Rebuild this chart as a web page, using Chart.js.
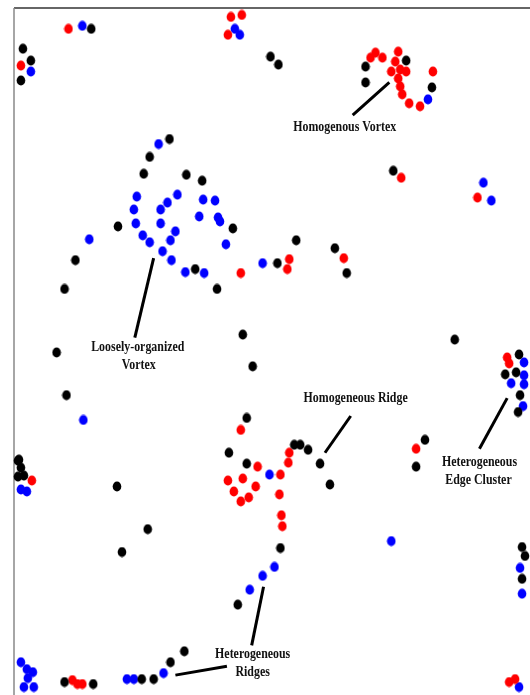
<!DOCTYPE html>
<html>
<head>
<meta charset="utf-8">
<script src="https://cdn.jsdelivr.net/npm/chart.js@4.4.0/dist/chart.umd.min.js"></script>
<style>
  html, body { margin: 0; padding: 0; background: #fff; overflow: hidden; }
  #wrap { width: 100vw; height: 100vh; position: relative; }
</style>
</head>
<body>
<div id="wrap"><canvas id="myChart"></canvas></div>
<script>
// point positions (x to the right, y downwards)
var blackPoints = [
  [92, 29], [23, 49], [31, 61], [21, 81], [273, 57], [281, 65],
  [369, 67], [369, 83], [410, 61], [436, 88], [397, 172],
  [171, 140], [151, 158], [145, 175], [188, 176], [204, 182], [119, 228], [235, 230], [197, 271],
  [76, 262], [65, 291], [57, 355], [67, 398], [19, 463],
  [299, 242], [338, 250], [350, 275], [219, 291], [280, 265], [245, 337], [255, 369],
  [459, 342], [524, 357], [510, 377], [521, 375], [525, 398], [523, 415],
  [249, 421], [231, 456], [297, 448], [303, 448], [311, 453], [249, 467], [323, 467], [333, 488],
  [429, 443], [420, 470], [18, 464], [21, 471], [18, 480], [24, 479],
  [118, 490], [149, 533], [123, 556], [283, 552], [240, 609], [186, 656], [172, 667],
  [65, 687], [94, 689], [143, 684], [155, 684], [527, 551], [530, 560], [527, 583]
];

var redPoints = [
  [69, 29], [21, 66], [233, 17], [244, 15], [230, 35],
  [374, 58], [379, 53], [386, 58], [402, 52], [399, 62], [395, 72], [404, 70], [410, 72],
  [402, 79], [437, 72], [404, 87], [406, 95], [413, 104], [424, 107],
  [405, 179], [482, 199], [243, 275], [347, 260], [292, 261], [290, 271],
  [512, 360], [514, 366], [243, 433], [292, 456], [291, 466], [260, 470], [283, 478],
  [230, 484], [245, 482], [236, 495], [258, 490], [243, 505], [251, 501], [282, 498],
  [284, 519], [285, 530], [420, 452], [32, 484],
  [73, 685], [78, 689], [83, 689], [514, 687], [520, 684]
];

var bluePoints = [
  [83, 26], [31, 72], [237, 29], [242, 35], [432, 100], [488, 184], [496, 202],
  [160, 145], [138, 198], [135, 211], [137, 225], [144, 237], [151, 244], [162, 211], [169, 204],
  [179, 196], [162, 225], [177, 233], [172, 242], [164, 253], [173, 262], [205, 201], [217, 202],
  [201, 218], [220, 219], [222, 223], [228, 246], [187, 274], [206, 275],
  [90, 241], [84, 423], [265, 265],
  [529, 365], [529, 378], [516, 386], [529, 387], [528, 409],
  [272, 478], [277, 571], [265, 580], [252, 594], [21, 493], [27, 495],
  [395, 545], [525, 572], [527, 598],
  [21, 667], [27, 674], [33, 677], [28, 683], [24, 692], [34, 692],
  [128, 684], [135, 684], [165, 678], [524, 692]
];

// annotation text: [text, x, y]
var labelTexts = [
  ['Homogenous Vortex', 348, 128],
  ['Loosely-organized', 139, 350],
  ['Vortex', 140, 368],
  ['Homogeneous Ridge', 359, 401],
  ['Heterogeneous', 484, 466],
  ['Edge Cluster', 483, 484],
  ['Heterogeneous', 255, 659],
  ['Ridges', 255, 677]
];

// leader lines: [x1, y1, x2, y2]
var leaderLines = [
  [393, 83, 356, 116],
  [155, 260, 136, 340],
  [354, 419, 328, 456],
  [512, 401, 484, 452],
  [266, 591, 254, 650],
  [177, 680, 229, 671]
];

function toXY(list) {
  return list.map(function (p) { return { x: p[0], y: p[1] }; });
}

// dots in the original are a little taller than wide
function dotImage(color) {
  var c = document.createElement('canvas');
  c.width = 10;
  c.height = 11;
  var g = c.getContext('2d');
  g.fillStyle = color;
  g.beginPath();
  g.ellipse(5, 5.5, 4.3, 5.1, 0, 0, Math.PI * 2);
  g.fill();
  return c;
}

var datasets = [];

leaderLines.forEach(function (l) {
  datasets.push({
    type: 'line',
    data: [{ x: l[0], y: l[1] }, { x: l[2], y: l[3] }],
    borderColor: '#000',
    borderWidth: 3,
    pointRadius: 0,
    fill: false,
    clip: false
  });
});

[[blackPoints, '#000000'], [redPoints, '#ff0000'], [bluePoints, '#0000ff']].forEach(function (s) {
  datasets.push({
    data: toXY(s[0]),
    backgroundColor: s[1],
    pointStyle: dotImage(s[1]),
    borderWidth: 0,
    pointRadius: 5,
    clip: false
  });
});

// frame on the left and top edge + text labels
var frameAndLabels = {
  id: 'frameAndLabels',
  beforeDatasetsDraw: function (chart) {
    var ctx = chart.ctx, a = chart.chartArea;
    ctx.save();
    ctx.lineWidth = 1.5;
    ctx.strokeStyle = '#333';
    ctx.beginPath();
    ctx.moveTo(a.left, a.top);
    ctx.lineTo(chart.width, a.top);
    ctx.stroke();
    ctx.strokeStyle = '#888';
    ctx.beginPath();
    ctx.moveTo(a.left, a.top);
    ctx.lineTo(a.left, chart.height);
    ctx.stroke();
    ctx.restore();
  },
  afterDatasetsDraw: function (chart) {
    var ctx = chart.ctx;
    var xs = chart.scales.x, ys = chart.scales.y;
    ctx.save();
    ctx.fillStyle = '#111';
    ctx.font = 'bold 14px "Liberation Serif", "Times New Roman", serif';
    ctx.textAlign = 'center';
    ctx.textBaseline = 'middle';
    labelTexts.forEach(function (t) {
      ctx.save();
      ctx.translate(xs.getPixelForValue(t[1]), ys.getPixelForValue(t[2]));
      ctx.scale(0.85, 1); // narrow, tall type as in the original
      ctx.fillText(t[0], 0, 0);
      ctx.restore();
    });
    ctx.restore();
  }
};

var ctx = document.getElementById('myChart').getContext('2d');

var myChart = new Chart(ctx, {
  type: 'scatter',
  data: { datasets: datasets },
  options: {
    responsive: true,
    maintainAspectRatio: false,
    animation: false,
    events: [],
    layout: {
      padding: function (c) {
        return { left: c.chart.width * 14 / 530, top: c.chart.height * 8 / 695, right: 0, bottom: 0 };
      }
    },
    plugins: {
      legend: { display: false },
      tooltip: { enabled: false }
    },
    scales: {
      x: { type: 'linear', display: false, min: 14, max: 530 },
      y: { type: 'linear', display: false, reverse: true, min: 8, max: 695 }
    }
  },
  plugins: [frameAndLabels]
});
</script>
</body>
</html>
